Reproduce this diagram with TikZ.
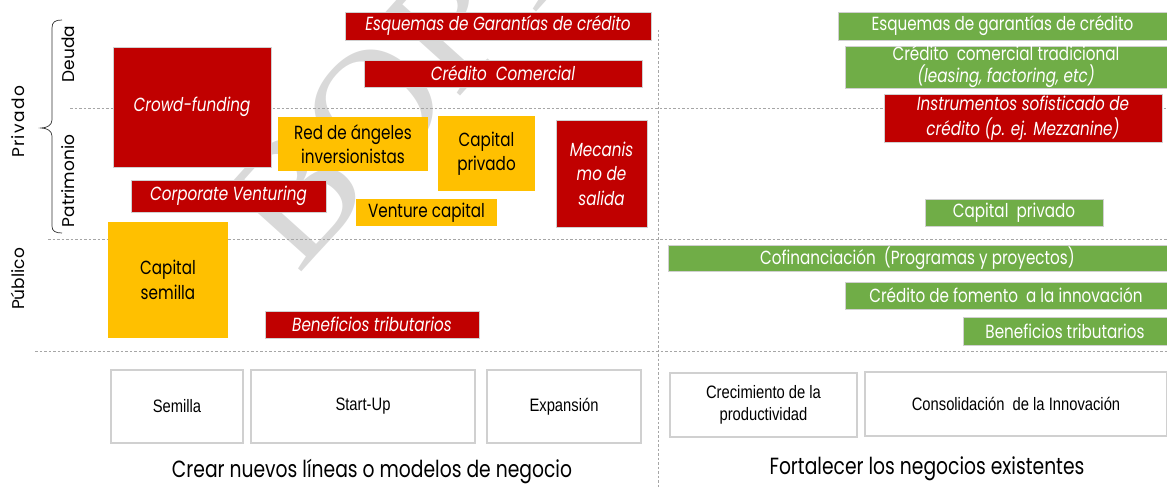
\documentclass[tikz,border=0pt]{standalone}
\usepackage{fontspec}
\setmainfont{Poppins}[FakeStretch=0.8]
\newfontfamily\widefont{Poppins}
\newfontfamily\narrowfont{Liberation Sans}[FakeStretch=0.82]
\newfontfamily\wmfont{Liberation Serif}
\definecolor{cred}{HTML}{C00000}
\definecolor{cyel}{HTML}{FFC000}
\definecolor{cgrn}{HTML}{70AD47}
\definecolor{cdash}{HTML}{A6A6A6}
\definecolor{cwm}{HTML}{D9D9D9}
\definecolor{cbord}{HTML}{D0D0D0}
\tikzset{
  base/.style={inner sep=0pt, align=center},
  redbox/.style={base, fill=cred, draw=cbord, line width=0.6pt, text=white, font=\fontsize{19}{24.5}\selectfont\itshape},
  yelbox/.style={base, fill=cyel, text=black, font=\fontsize{19}{24.5}\selectfont},
  grnbox/.style={base, fill=cgrn, draw=cbord, line width=0.6pt, text=white, font=\fontsize{19}{22}\selectfont},
  stagebox/.style={base, fill=white, draw=cbord, line width=1.2pt, text=black, font=\narrowfont\fontsize{18}{22}\selectfont},
  sep/.style={draw=cdash, line width=0.8pt, dash pattern=on 2.5pt off 2pt},
  axislbl/.style={inner sep=0pt, rotate=90, font=\widefont\fontsize{17}{19}\selectfont},
  footlbl/.style={inner sep=0pt, font=\fontsize{23.4}{26}\selectfont},
}
\newcommand{\bx}[7]{\node[#2, minimum width={(#5-#3)*1pt}, minimum height={(#6-#4)*1pt}] (#1) at ({(#3+#5)/2},{(#4+#6)/2}) {#7};}
\begin{document}
\begin{tikzpicture}[x=1pt,y=-1pt]
\useasboundingbox (0,0) rectangle (1167,487);
% watermark
\begin{scope}
\clip (0,0) rectangle (1167,487);
\node[text=cwm, font=\wmfont\fontsize{170}{170}\selectfont, rotate=48, anchor=base west, inner sep=0pt] (wm) at (298,276) {BORRADOR};
\end{scope}
% separators
\coordinate (h1a) at (70,108); \coordinate (h1b) at (1167,108);
\coordinate (h2a) at (48,239); \coordinate (h2b) at (1167,239);
\coordinate (h3a) at (35,351); \coordinate (h3b) at (1167,351);
\coordinate (v1a) at (658,30); \coordinate (v1b) at (658,487);
\draw[sep] (h1a) -- (h1b);
\draw[sep] (h2a) -- (h2b);
\draw[sep] (h3a) -- (h3b);
\draw[sep] (v1a) -- (v1b);
% brace
\draw[line width=0.7pt, black!80] (62,20) .. controls (55,20) and (52,22) .. (52,28) -- (52,120) .. controls (52,125) and (47,128) .. (41,128) .. controls (47,128) and (52,131) .. (52,136) -- (52,226) .. controls (52,231) and (55,233) .. (62,233);
% axis labels
\node[axislbl] (priv) at (18,122) {\addfontfeature{LetterSpace=8}Privado};
\node[axislbl] (deuda) at (68,54) {Deuda};
\node[axislbl] (patr) at (68,181) {Patrimonio};
\node[axislbl] (publ) at (18,279) {Público};
% left boxes
\bx{esql}{redbox}{345}{12}{651}{40}{Esquemas de Garantías de crédito}
\bx{ccl}{redbox}{364}{60}{642}{87}{Crédito\ \ Comercial}
\bx{cf}{redbox}{113}{47}{271}{167}{Crowd-funding}
\bx{rda}{yelbox}{278}{117}{428}{171}{Red de ángeles\\inversionistas}
\bx{cpl}{yelbox}{438}{116}{535}{191}{Capital\\privado}
\bx{mec}{redbox}{556}{120}{647}{227}{Mecanis\\mo de\\salida}
\bx{cv}{redbox}{131}{180}{326}{212}{Corporate Venturing}
\bx{vc}{yelbox}{356}{199}{497}{226}{Venture capital}
\bx{cs}{yelbox}{108}{222}{228}{338}{Capital\\semilla}
\bx{btl}{redbox}{265}{311}{479}{338}{Beneficios tributarios}
% right boxes
\bx{esqr}{grnbox}{838}{12}{1167}{40}{Esquemas de garantías de crédito}
\bx{ccr}{grnbox}{845}{47}{1167}{87}{Crédito\ \ comercial tradicional\\{\itshape (leasing, factoring, etc)}}
\bx{ins}{redbox}{884}{94}{1162}{142}{Instrumentos sofisticado de\\crédito (p. ej. Mezzanine)}
\bx{cpr}{grnbox}{925}{199}{1103}{226}{Capital\ \ privado}
\bx{cof}{grnbox}{668}{245}{1167}{271}{Cofinanciación\ \ (Programas y proyectos)}
\bx{cfi}{grnbox}{845}{282}{1167}{309}{Crédito de fomento\ \ a la innovación}
\bx{btr}{grnbox}{963}{317}{1167}{345}{Beneficios tributarios}
% stages
\bx{s1}{stagebox}{111}{370}{243}{443}{Semilla}
\bx{s2}{stagebox}{251}{370}{475}{443}{Start-Up}
\bx{s3}{stagebox}{487}{370}{641}{443}{Expansión}
\bx{s4}{stagebox}{670}{373}{857}{437}{Crecimiento de la\\productividad}
\bx{s5}{stagebox}{865}{372}{1167}{436}{Consolidación\ \ de la Innovación}
% footers
\node[footlbl] (fl) at (372,472) {Crear nuevos líneas o modelos de negocio};
\node[footlbl] (fr) at (927,469) {Fortalecer los negocios existentes};
\end{tikzpicture}
\end{document}
